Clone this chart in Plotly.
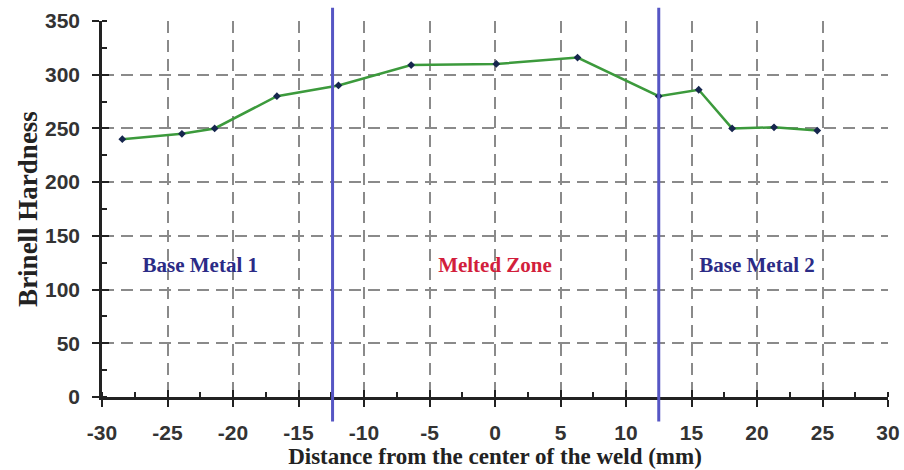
import plotly.graph_objects as go

distance_mm = [-28.45, -23.9, -21.4, -16.65, -11.95, -6.4, 0.1, 6.3, 12.5, 15.55, 18.1, 21.3, 24.6]
hardness = [240, 245, 250, 280, 290, 309, 310, 316, 280, 286, 250, 251, 248]

zone_bounds = [-12.4, 12.5]
zone_labels = ["Base Metal 1", "Melted Zone", "Base Metal 2"]
zone_label_x = [-22.5, 0, 20]
zone_label_y = [121, 121, 121]
zone_label_colors = ["#2b2b86", "#d21e3c", "#2b2b86"]

x_ticks = [-30, -25, -20, -15, -10, -5, 0, 5, 10, 15, 20, 25, 30]
y_ticks = [0, 50, 100, 150, 200, 250, 300, 350]

fig = go.Figure()
fig.add_trace(go.Scatter(
    x=distance_mm, y=hardness, mode="lines+markers",
    line=dict(color="#3c9a3c", width=2.5),
    marker=dict(color="#16264e", size=6, symbol="diamond"),
    showlegend=False, hoverinfo="x+y",
))
fig.add_trace(go.Scatter(
    x=zone_label_x, y=zone_label_y, mode="text",
    text=["<b>%s</b>" % t for t in zone_labels],
    textfont=dict(family="Liberation Serif", size=21, color=zone_label_colors),
    showlegend=False, hoverinfo="skip",
))

for xb in zone_bounds:
    fig.add_shape(type="line", xref="x", yref="paper", x0=xb, x1=xb, y0=-0.065, y1=1.035,
                  line=dict(color="#5656c4", width=3), layer="above")

tick_font = dict(family="Liberation Sans", size=21, color="#333333")

fig.update_layout(
    width=904, height=470,
    margin=dict(l=102, r=16, t=21, b=73, autoexpand=False),
    paper_bgcolor="white", plot_bgcolor="white",
    xaxis=dict(
        range=[-30, 30], tickvals=x_ticks, ticktext=["<b>%d</b>" % v for v in x_ticks],
        showline=True, linecolor="#222222", linewidth=2.5,
        ticks="outside", ticklen=7, tickwidth=2, tickcolor="#222222",
        minor=dict(dtick=2.5, ticks="inside", ticklen=5, tickwidth=2, tickcolor="#222222", showgrid=False),
        showgrid=True, gridcolor="#8a8a8a", gridwidth=2, griddash="12px,7px",
        zeroline=False, automargin=False,
        tickfont=tick_font, ticklabelstandoff=8,
        title=dict(text="<b>Distance from the center of the weld (mm)</b>",
                   font=dict(family="Liberation Serif", size=23, color="#222222"), standoff=0),
    ),
    yaxis=dict(
        range=[0, 350], tickvals=y_ticks, ticktext=["<b>%d</b>" % v for v in y_ticks],
        showline=True, linecolor="#222222", linewidth=2.5,
        ticks="outside", ticklen=7, tickwidth=2, tickcolor="#222222",
        minor=dict(dtick=25, ticks="inside", ticklen=5, tickwidth=2, tickcolor="#222222", showgrid=False),
        showgrid=True, gridcolor="#8a8a8a", gridwidth=2, griddash="12px,7px",
        zeroline=False, automargin=False,
        tickfont=tick_font, ticklabelstandoff=8,
        title=dict(text="<b>Brinell Hardness</b>",
                   font=dict(family="Liberation Serif", size=27, color="#222222"), standoff=0),
    ),
    xaxis2=dict(overlaying="x", range=[-30, 30], tickvals=x_ticks, showticklabels=False,
                ticks="inside", ticklen=7, tickwidth=2, tickcolor="#222222",
                showgrid=False, zeroline=False, showline=False, automargin=False),
    yaxis2=dict(overlaying="y", range=[0, 350], tickvals=y_ticks, showticklabels=False,
                ticks="inside", ticklen=7, tickwidth=2, tickcolor="#222222",
                showgrid=False, zeroline=False, showline=False, automargin=False),
)
fig.add_trace(go.Scatter(x=[None], y=[None], xaxis="x2", yaxis="y2", showlegend=False, hoverinfo="skip"))

fig.write_html("out.html", config={"displayModeBar": False},
               post_script="document.body.style.margin='0';document.body.style.overflow='hidden';")
